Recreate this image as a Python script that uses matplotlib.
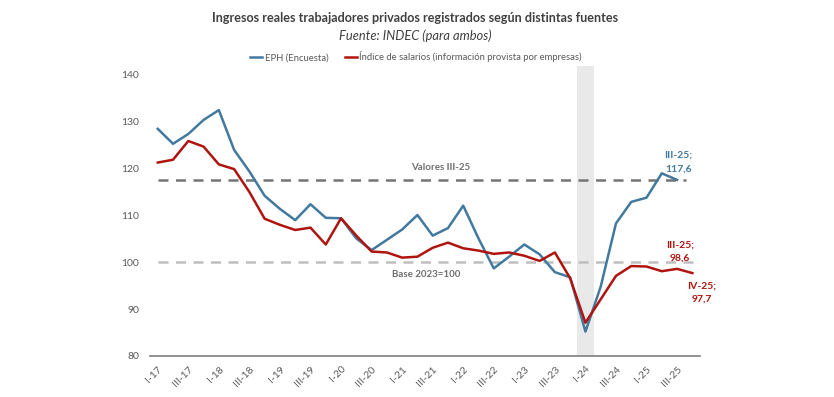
import matplotlib.pyplot as plt
import numpy as np

plt.rcParams['font.family'] = ['Lato', 'DejaVu Sans']

# Quarters I-17 .. IV-25
years = range(17, 26)
romans = ["I", "II", "III", "IV"]
quarters = [f"{r}-{y}" for y in years for r in romans]

eph = [128.5, 125.3, 127.4, 130.4, 132.5, 124.0, 119.4, 114.2,
       111.4, 109.0, 112.4, 109.5, 109.4, 105.1, 102.6, 104.8,
       107.0, 110.1, 105.7, 107.3, 112.1, 105.1, 98.7, 101.2,
       103.8, 101.7, 97.9, 96.8, 85.2, 94.8, 108.3, 112.9,
       113.8, 119.0, 117.6]

salarios = [121.3, 121.9, 125.9, 124.7, 120.9, 119.9, 115.0, 109.3,
            108.0, 106.9, 107.4, 103.8, 109.4, 105.7, 102.3, 102.1,
            101.0, 101.2, 103.1, 104.2, 103.0, 102.5, 101.8, 102.1,
            101.4, 100.3, 102.1, 96.6, 87.1, 92.1, 97.1, 99.2,
            99.1, 98.1, 98.6, 97.7]

valor_ref = 117.6
base = 100

BLUE = "#41799f"
RED = "#b0140f"
GRAY = "#595959"

fig = plt.figure(figsize=(8.34, 3.97), dpi=100)
ax = fig.add_axes([0.18, 0.1033, 0.6593, 0.7315])

x_eph = np.arange(len(eph))
x_sal = np.arange(len(salarios))

# shaded quarter I-24
i24 = quarters.index("I-24")
ax.axvspan(i24 - 0.55, i24 + 0.55, color="#e9e9e9", lw=0, zorder=0)

ax.hlines(valor_ref, 0, 34.6, colors="#747474", linestyles=(0, (4, 3)), lw=1.8, zorder=1)
ax.hlines(base, 0, 35.4, colors="#bfbfbf", linestyles=(0, (4, 3)), lw=1.8, zorder=1)

ax.plot(x_eph, eph, color=BLUE, lw=1.8, label="EPH (Encuesta)", zorder=3)
ax.plot(x_sal, salarios, color=RED, lw=1.8,
        label="Índice de salarios (información provista por empresas)", zorder=3)

ax.set_xlim(-0.5, 35.5)
ax.set_ylim(80, 142)
ax.set_yticks([80, 90, 100, 110, 120, 130, 140])
ax.set_xticks(np.arange(0, len(quarters), 2))
ax.set_xticklabels(quarters[::2], rotation=45, ha="right", rotation_mode="anchor")
ax.tick_params(axis="both", length=0, colors=GRAY, labelsize=7.5)
ax.tick_params(axis="y", pad=8)
ax.tick_params(axis="x", pad=6)

for s in ["top", "right", "left"]:
    ax.spines[s].set_visible(False)
ax.spines["bottom"].set_color("#7f7f7f")
ax.spines["bottom"].set_linewidth(1.2)

# annotations
ax.text(18.5, valor_ref + 1.7, "Valores III-25", color="#6f6f6f", fontsize=7,
        fontweight="bold", ha="center", va="bottom")
ax.text(17.6, base - 1.6, "Base 2023=100", color="#6f6f6f", fontsize=7,
        fontweight="bold", ha="center", va="top")
ax.text(34.1, 121.4, "III-25;\n117,6", color=BLUE, fontsize=7.5, fontweight="bold",
        ha="center", va="center", linespacing=1.6)
ax.text(34.2, 102.2, "III-25;\n98,6", color=RED, fontsize=7.5, fontweight="bold",
        ha="center", va="center", linespacing=1.6)
ax.text(35.6, 93.5, "IV-25;\n97,7", color=RED, fontsize=7.5, fontweight="bold",
        ha="center", va="center", linespacing=1.6)

fig.text(0.498, 0.955, "Ingresos reales trabajadores privados registrados según distintas fuentes",
         ha="center", va="center", fontsize=9.1, fontweight="bold", color="#404040")
fig.text(0.498, 0.91, "Fuente: INDEC (para ambos)", ha="center", va="center",
         fontsize=9.3, style="italic", color="#404040")

fig.legend(loc="center", bbox_to_anchor=(0.499, 0.857), ncol=2, frameon=False,
           fontsize=6.8, handlelength=1.2, handletextpad=0.3, columnspacing=1.8,
           labelcolor=GRAY)

fig.savefig("out.png", dpi=100)
